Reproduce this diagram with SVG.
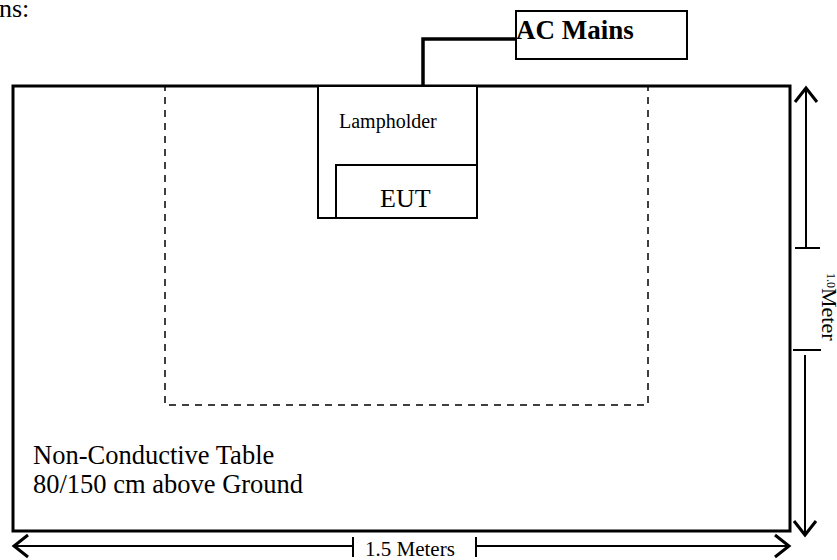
<svg xmlns="http://www.w3.org/2000/svg" width="837" height="560" viewBox="0 0 837 560" font-family="'Liberation Serif', 'Times New Roman', serif">
<style>
text{font-family:'Liberation Serif','Times New Roman',serif;fill:#000}
.box{fill:#fff;stroke:#000}
.dim{stroke:#000;stroke-width:2;fill:none}
</style>
<defs>
<marker id="arr" markerUnits="userSpaceOnUse" markerWidth="30" markerHeight="30" refX="16" refY="12" orient="auto" viewBox="0 0 30 24">
<path d="M2,1 L16,12 L2,23" fill="none" stroke="#000" stroke-width="3"/>
</marker>
</defs>
<rect width="837" height="560" fill="#fff"/>
<text x="-1" y="17" font-size="26">ns:</text>
<g id="table">
<rect x="13" y="86" width="777" height="445" class="box" stroke-width="3"/>
<text x="33" y="464" font-size="26.5">Non-Conductive Table</text>
<text x="33" y="493" font-size="26.5">80/150 cm above Ground</text>
</g>
<g id="area">
<rect x="165" y="86" width="483" height="319" fill="none" stroke="#000" stroke-width="1.5" stroke-dasharray="7 6"/>
</g>
<g id="lampholder">
<rect x="318" y="86" width="159" height="132" class="box" stroke-width="2"/>
<text x="339" y="128" font-size="20">Lampholder</text>
</g>
<g id="eut">
<rect x="336" y="165" width="141" height="53" class="box" stroke-width="2"/>
<text x="380" y="207" font-size="26">EUT</text>
</g>
<g id="acmains">
<rect x="516" y="11" width="171" height="48" class="box" stroke-width="2"/>
<text x="516" y="39" font-size="27" font-weight="bold">AC Mains</text>
</g>
<g id="connectors">
<path d="M423,86 V39 H516" fill="none" stroke="#000" stroke-width="3.5"/>
</g>
<g id="dimensions">
<path class="dim" d="M806,248 V88" marker-end="url(#arr)"/>
<path class="dim" d="M795,248 H820"/>
<path class="dim" d="M805,355 V535" marker-end="url(#arr)"/>
<path class="dim" d="M793,350 H821"/>
<text transform="translate(822,273) rotate(90)"><tspan font-size="12" dy="-5">1.0</tspan><tspan font-size="22" dy="5">Meter</tspan></text>
<path class="dim" d="M353,546 H14" marker-end="url(#arr)"/>
<path class="dim" d="M353,537 V557"/>
<path class="dim" d="M476,546 H789" marker-end="url(#arr)"/>
<path class="dim" d="M476,537 V557"/>
<text x="365" y="556" font-size="21">1.5 Meters</text>
</g>
</svg>
